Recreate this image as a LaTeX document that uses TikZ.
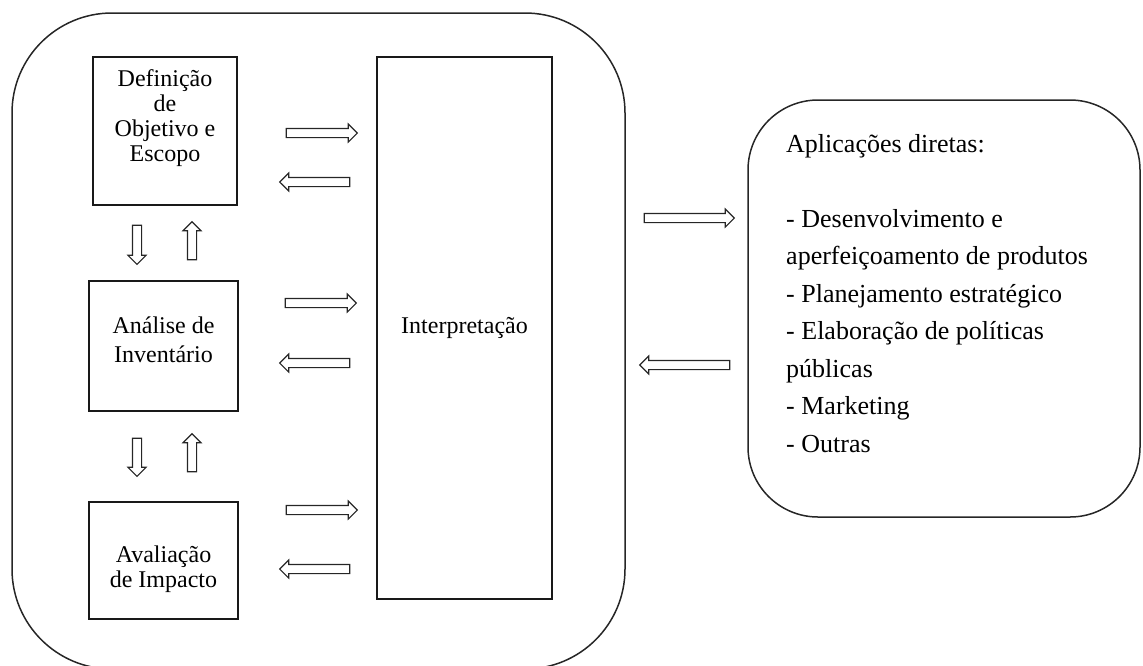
\documentclass[tikz,border=0pt]{standalone}
\usepackage{fontspec}
\setmainfont{Liberation Serif}
\usetikzlibrary{shapes.arrows}
\begin{document}
\begin{tikzpicture}[x=1pt,y=-1pt,
  frame/.style={draw=black!85, line width=1.5pt, inner sep=0pt},
  stage/.style={draw=black!90, line width=1.3pt, inner sep=0pt},
  blk/.style={single arrow, draw=black!85, line width=1.1pt, inner sep=4pt,
    single arrow head extend=4.5pt, single arrow tip angle=90, minimum height=#1},
  lbl/.style={font=\fontsize{24}{25}\selectfont, align=center, inner sep=0pt},
  apptxt/.style={font=\fontsize{26}{37.5}\selectfont, align=left, inner sep=0pt}
]
\useasboundingbox (0,0) rectangle (1143,665);
% outer frames
\node[frame, rounded corners=100pt, minimum width=613pt, minimum height=656pt] (outer) at (318.5,341) {};
\node[frame, rounded corners=70pt, minimum width=392pt, minimum height=417pt] (apps) at (944,308.5) {};
% stage boxes
\node[stage, minimum width=144pt, minimum height=148pt] (def) at (165,131) {};
\node[stage, minimum width=149pt, minimum height=130pt] (inv) at (163.5,346) {};
\node[stage, minimum width=149pt, minimum height=117pt] (imp) at (163.5,560.5) {};
\node[stage, lbl, minimum width=175pt, minimum height=542pt] (interp) at (464.5,328) {Interpreta\c{c}\~ao};
% texts
\node[lbl, anchor=north] (deftxt) at (165,69) {Defini\c{c}\~ao\\de\\Objetivo e\\Escopo};
\node[lbl, font=\fontsize{24}{29}\selectfont] (invtxt) at (163.5,340) {An\'alise de\\Invent\'ario};
\node[lbl, anchor=north] (imptxt) at (163.5,546) {Avalia\c{c}\~ao\\de Impacto};
\node[apptxt, anchor=north west] (appstxt) at (786,134) {Aplica\c{c}\~oes diretas:\\[37.5pt]
- Desenvolvimento e\\
aperfei\c{c}oamento de produtos\\
- Planejamento estrat\'egico\\
- Elabora\c{c}\~ao de pol\'iticas\\
p\'ublicas\\
- Marketing\\
- Outras};
% block arrows between stages and interpretation
\node[blk=71pt] (r1) at (319.5,133) {};
\node[blk=70pt, shape border rotate=180] (l1) at (317,182) {};
\node[blk=71pt] (r2) at (318.5,303) {};
\node[blk=70pt, shape border rotate=180] (l2) at (317,363) {};
\node[blk=71pt] (r3) at (319.5,510) {};
\node[blk=70pt, shape border rotate=180] (l3) at (317,569) {};
% vertical arrows
\node[blk=39pt, shape border rotate=270] (d1) at (137,242.5) {};
\node[blk=38pt, shape border rotate=90] (u1) at (192,243) {};
\node[blk=38pt, shape border rotate=270] (d2) at (137,455) {};
\node[blk=38pt, shape border rotate=90] (u2) at (192,455) {};
% arrows between outer frame and applications
\node[blk=90pt] (ro) at (687,218) {};
\node[blk=90pt, shape border rotate=180] (lo) at (687,365) {};
\end{tikzpicture}
\end{document}
